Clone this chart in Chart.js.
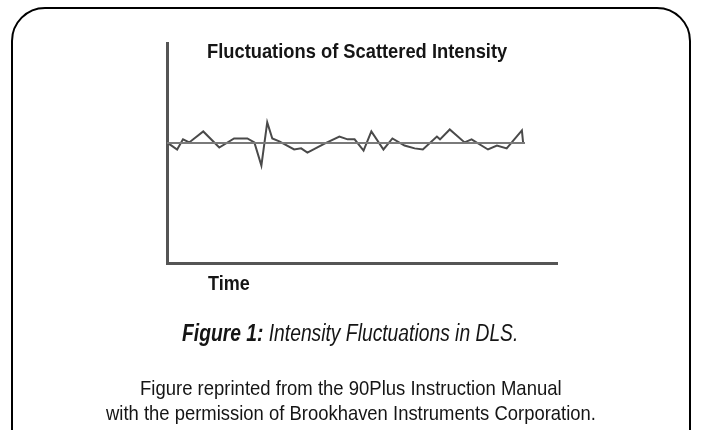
<!DOCTYPE html>
<html>
<head>
<meta charset="utf-8">
<script src="https://cdn.jsdelivr.net/npm/chart.js@4"></script>
<style>
  body { margin: 0; background: #fff; }
  #wrap { position: relative; width: 702px; height: 430px; overflow: hidden; }
  #frame { position: absolute; left: 11px; top: 7px; width: 676px; height: 460px;
           border: 2px solid #000; border-radius: 34px; }
  canvas { position: absolute; left: 0; top: 0; }
  .txt { position: absolute; font-family: "Liberation Sans", Arial, sans-serif;
         color: #151515; white-space: nowrap; transform-origin: 0 0; display: inline-block; }
  #title { font-size: 21px; line-height: 21px; font-weight: bold; }
  #xlab { font-size: 21px; line-height: 21px; font-weight: bold; }
  #cap { font-size: 23px; line-height: 23px; font-style: italic; }
  .foot { font-size: 21px; line-height: 21px; }
</style>
</head>
<body>
<div id="wrap">
  <div id="frame"></div>
  <canvas id="c" width="702" height="430"></canvas>
  <div class="txt" id="title" data-x="207" data-y="40" data-w="300">Fluctuations of Scattered Intensity</div>
  <div class="txt" id="xlab" data-x="208" data-y="272" data-w="42">Time</div>
  <div class="txt" id="cap" data-x="182" data-y="322" data-w="336"><b>Figure 1:</b> Intensity Fluctuations in DLS.</div>
  <div class="txt foot" data-cx="351" data-y="377" data-w="422">Figure reprinted from the 90Plus Instruction Manual</div>
  <div class="txt foot" data-cx="351" data-y="402" data-w="490">with the permission of Brookhaven Instruments Corporation.</div>
</div>
<script>
// time points and scattered intensity
const timeVals = [0, 2.6, 4.1, 5.7, 9.3, 13.4, 17.2, 20.6, 22.4, 24.2, 25.7, 27.0, 28.8, 32.6, 34.4, 36.0,
  40.4, 44.2, 46.3, 48.1, 50.4, 52.4, 55.5, 57.8, 60.9, 63.5, 65.6, 69.2, 70.0, 72.5, 76.3, 78.1,
  82.3, 84.6, 87.1, 91.0, 91.3];
const intensity = [54.8, 51.6, 56.2, 54.8, 59.8, 52.5, 56.6, 56.6, 54.8, 44.3, 63.9, 56.6, 55.3, 51.6, 52.1, 50.2,
  54.3, 57.5, 56.2, 56.2, 51.1, 59.8, 51.6, 56.6, 53.4, 52.1, 51.6, 57.5, 56.2, 60.7, 54.8, 56.2,
  51.6, 53.4, 52.1, 60.3, 54.8];
const meanTime = [0, 91.8];
const meanLevel = [54.6, 54.6];

// squeeze each text block to the narrow width of the original lettering
document.querySelectorAll('.txt').forEach(el => {
  const w = el.offsetWidth;
  const target = +el.dataset.w;
  const left = el.dataset.cx ? +el.dataset.cx - target / 2 : +el.dataset.x;
  el.style.left = left + 'px';
  el.style.top = el.dataset.y + 'px';
  el.style.transform = 'scaleX(' + (target / w) + ')';
});

const seriesPts = timeVals.map((t, i) => ({ x: t, y: intensity[i] }));
const meanPts = meanTime.map((t, i) => ({ x: t, y: meanLevel[i] }));

new Chart(document.getElementById('c'), {
  type: 'line',
  data: {
    datasets: [
      { data: meanPts, borderColor: '#7a7a7a', borderWidth: 2, pointRadius: 0, tension: 0 },
      { data: seriesPts, borderColor: '#4a4a4a', borderWidth: 2, pointRadius: 0, tension: 0 }
    ]
  },
  options: {
    responsive: false,
    animation: false,
    layout: { padding: { left: 167, top: 43, right: 145, bottom: 167 } },
    plugins: { legend: { display: false }, tooltip: { enabled: false } },
    scales: {
      x: {
        type: 'linear', min: 0, max: 100,
        grid: { display: false }, ticks: { display: false },
        border: { display: true, color: '#555', width: 3 },
        afterFit: s => { s.height = 0; }
      },
      y: {
        min: 0, max: 100,
        grid: { display: false }, ticks: { display: false },
        border: { display: true, color: '#555', width: 3 },
        afterFit: s => { s.width = 0; }
      }
    }
  }
});
</script>
</body>
</html>
